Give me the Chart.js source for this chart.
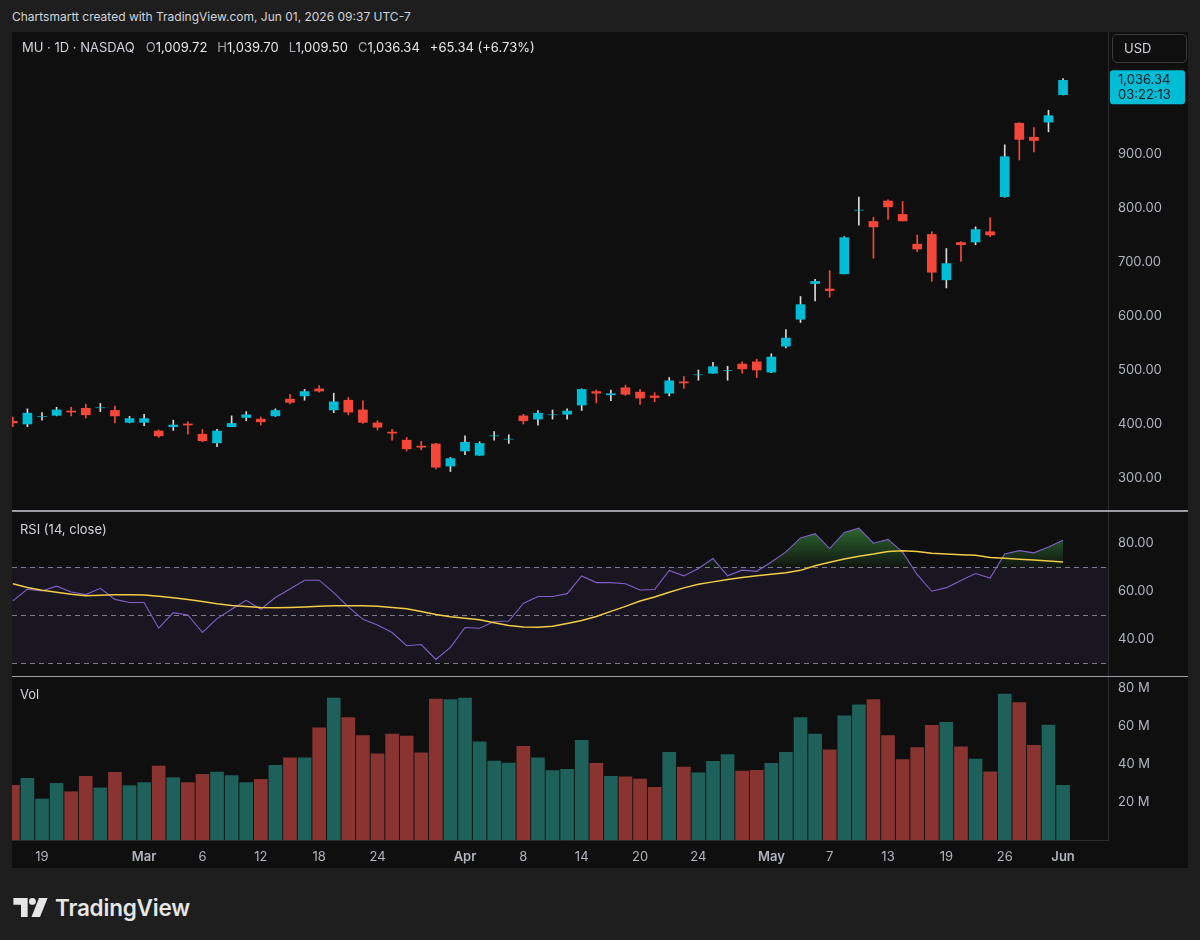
<!DOCTYPE html>
<html><head><meta charset="utf-8">
<script src="https://cdn.jsdelivr.net/npm/chart.js@4.4.1/dist/chart.umd.min.js"></script>
<style>
html,body{margin:0;padding:0;background:#1e1e1e;width:1200px;height:940px;overflow:hidden;font-family:Inter,"Noto Sans",sans-serif;}
#hdr{position:absolute;left:12px;top:9px;font-size:12px;color:#d1d4dc;white-space:nowrap;}
#panel{position:absolute;left:12px;top:32px;width:1176px;height:836px;background:#0f0f0f;}
canvas{position:absolute;}
.sep{position:absolute;left:12px;width:1176px;background:#9a9ca2;}
#legend{position:absolute;left:22px;top:39px;font-size:13px;color:#d1d4dc;white-space:nowrap;}
#legend .k{color:#a3a6af;}
#legend .v{color:#e6e7ea;margin-right:10px;}
.pl{position:absolute;left:20px;font-size:13px;color:#d1d4dc;}
#usd{position:absolute;left:1112px;top:34px;width:62px;height:27px;padding-left:11px;border:1px solid #3a3b3e;border-radius:5px;color:#d1d4dc;font-size:13px;line-height:27px;text-align:left;box-sizing:content-box;}
#logo{position:absolute;left:13px;top:894px;display:flex;align-items:center;color:#e6e6e6;}
#logo span{font-size:22.5px;font-weight:600;margin-left:7px;letter-spacing:-0.2px;}
</style></head>
<body>
<div id="hdr">Chartsmartt created with TradingView.com, Jun 01, 2026 09:37 UTC-7</div>
<div id="panel"></div>
<canvas id="cPrice" width="1176" height="478" style="left:12px;top:32px"></canvas>
<div class="sep" style="top:510px;height:2px"></div>
<canvas id="cRsi" width="1176" height="164" style="left:12px;top:512px"></canvas>
<div class="sep" style="top:676px;height:1px"></div>
<canvas id="cVol" width="1176" height="191" style="left:12px;top:677px"></canvas>
<div id="legend"></div>
<div class="pl" style="top:521px">RSI (14, close)</div>
<div class="pl" style="top:686px">Vol</div>
<div id="usd">USD</div>
<div id="logo"><svg width="35" height="19" viewBox="0 0 36 20"><path d="M0 0H15V20H8V7H0Z" fill="#e6e6e6"/><circle cx="20" cy="3.6" r="3.6" fill="#e6e6e6"/><path d="M27 0H36L28 20H19Z" fill="#e6e6e6"/></svg><span>TradingView</span></div>
<script>
// ---------- data ----------
const dates = ["2026-02-17","2026-02-18","2026-02-19","2026-02-20","2026-02-23","2026-02-24","2026-02-25","2026-02-26","2026-02-27",
"2026-03-02","2026-03-03","2026-03-04","2026-03-05","2026-03-06","2026-03-09","2026-03-10","2026-03-11","2026-03-12","2026-03-13",
"2026-03-16","2026-03-17","2026-03-18","2026-03-19","2026-03-20","2026-03-23","2026-03-24","2026-03-25","2026-03-26","2026-03-27",
"2026-03-30","2026-03-31","2026-04-01","2026-04-02","2026-04-06","2026-04-07","2026-04-08","2026-04-09","2026-04-10","2026-04-13",
"2026-04-14","2026-04-15","2026-04-16","2026-04-17","2026-04-20","2026-04-21","2026-04-22","2026-04-23","2026-04-24","2026-04-27",
"2026-04-28","2026-04-29","2026-04-30","2026-05-01","2026-05-04","2026-05-05","2026-05-06","2026-05-07","2026-05-08","2026-05-11",
"2026-05-12","2026-05-13","2026-05-14","2026-05-15","2026-05-18","2026-05-19","2026-05-20","2026-05-21","2026-05-22","2026-05-26",
"2026-05-27","2026-05-28","2026-05-29","2026-06-01"];

const open  = [405,400,414,416,424,429,430,425,403,403,387,395,400,381,365,395,412,409,415,446,452,465,426,444,426,402,385,370,359,363,322,350,342,378,372,415,409,417,418,435,460,454,467,459,452,457,478,491,494,499,511,515,496,544,594,660,650,678,796,775,813,788,733,751,667,736,737,756,821,957,931,959,1009.72];
const high  = [413,428,421,431,431,437,438,433,414,418,389,407,404,390,390,415,423,413,428,455,464,471,457,449,443,406,390,375,368,364,338,378,367,386,380,418,425,426,428,465,463,463,472,464,458,486,488,500,514,507,515,520,530,575,636,668,684,747,820,783,815,812,750,756,725,738,765,782,917,958,949,981,1039.70];
const low   = [395,395,407,415,415,411,423,402,402,397,375,388,381,367,358,395,406,398,414,437,444,459,421,417,401,389,370,350,352,317,312,343,342,370,364,400,398,409,409,425,439,443,453,436,441,452,466,481,494,481,494,486,495,541,588,628,635,678,768,707,779,776,719,664,652,701,732,747,820,889,904,941,1009.50];
const close = [402,420,414,426,422,417,430,415,410,410,378,398,398,369,387,401,417,404,425,440,460,461,441,422,403,394,383,354,357,320,336,366,364,378,372,406,420,417,424,464,457,456,455,448,449,480,476,491,506,499,502,500,524,559,621,664,647,745,796,765,802,776,724,681,697,732,760,750,895,927,925,971,1036.34];

const volumeM = [28.8,32.5,21.6,29.8,25.4,33.5,27.4,35.6,28.6,30.2,38.9,32.8,30.2,34.6,35.8,33.9,30.2,31.9,39.3,43.2,43.2,59.1,74.7,64.4,54.9,45.3,55.7,54.7,45.9,74.2,73.9,74.7,51.7,41.6,40.5,49.3,43.2,36.5,37.2,52.5,40.4,33.5,33.3,32.1,27.7,46.1,38.4,35.4,41.4,44.9,36.3,36.7,40.4,46.1,64.4,55.8,47.5,65.3,71.2,73.9,54.9,42.3,48.6,60.4,61.9,49.0,42.6,35.9,76.8,72.3,49.8,60.5,28.8];

const rsi = [55.9,60.8,60.0,62.0,59.6,58.5,61.1,56.5,55.2,55.2,44.5,51.0,50.0,42.7,48.5,52.4,56.1,52.4,57.3,60.8,64.5,64.5,59.3,53.4,48.2,45.8,42.7,37.2,37.7,31.5,36.5,44.8,44.5,47.3,47.5,54.8,57.7,57.7,58.9,66.3,63.5,63.5,63.0,60.4,60.6,68.6,66.3,69.4,73.5,66.3,68.7,68.2,72.1,76.3,82.1,83.9,77.7,84.4,86.2,79.9,81.5,76.2,66.8,59.9,61.4,64.4,67.3,65.4,75.4,76.8,75.9,78.3,81.1];
const rsiMa = [63.0,61.5,60.3,59.5,58.6,58.0,58.2,58.4,58.4,58.3,57.8,57.2,56.5,55.6,54.7,54.0,53.5,53.1,53.0,53.1,53.3,53.6,53.9,53.9,53.9,53.6,53.1,52.6,51.5,50.2,49.3,48.6,48.0,46.8,45.6,45.0,44.9,45.3,46.5,47.7,49.4,51.5,53.6,55.8,57.5,59.5,61.3,62.8,63.8,64.8,65.6,66.4,67.0,67.6,68.6,70.5,72.0,73.3,74.5,75.4,76.5,76.8,76.5,75.7,75.4,75.1,74.9,74.0,73.6,73.2,72.9,72.5,72.1];
const rsiLevels = [70, 50, 30];

const tickDates  = ["2026-02-19","2026-03-02","2026-03-06","2026-03-12","2026-03-18","2026-03-24","2026-04-01","2026-04-08","2026-04-14","2026-04-20","2026-04-24","2026-05-01","2026-05-07","2026-05-13","2026-05-19","2026-05-26","2026-06-01"];
const tickLabels = ["19","Mar","6","12","18","24","Apr","8","14","20","24","May","7","13","19","26","Jun"];
const monthLabels = ["Mar","Apr","May","Jun"];
const priceTicks = [300,400,500,600,700,800,900];
const rsiTicks = [40,60,80];
const volTicks = [20,40,60,80];
const symbolInfo = ["MU","1D","NASDAQ"];
const countdown = "03:22:13";

// ---------- styling ----------
const UP = '#00bcd4', DOWN = '#f4473a', UPWICK = '#d9d9d9';
const VUP = '#1e605a', VDOWN = '#8a3432';
const AXIS_TXT = '#b2b5be';
const FONT = 'Inter';
Chart.defaults.font.family = FONT;
Chart.defaults.font.size = 13;
Chart.defaults.animation = false;

const X_MIN = -0.057, X_MAX = 75.08;
const n = dates.length;
const isUp = close.map((c,i)=> c >= open[i]);
const fmt = v => v.toLocaleString('en-US',{minimumFractionDigits:2,maximumFractionDigits:2});

// legend
(function(){
  const L = n-1;
  const chg = close[L]-close[L-1];
  const pct = chg/close[L-1]*100;
  document.getElementById('legend').innerHTML =
    `<span style="margin-right:11px">${symbolInfo.join(' · ')}</span>`+
    `<span class="k">O</span><span class="v">${fmt(open[L])}</span>`+
    `<span class="k">H</span><span class="v">${fmt(high[L])}</span>`+
    `<span class="k">L</span><span class="v">${fmt(low[L])}</span>`+
    `<span class="k">C</span><span class="v">${fmt(close[L])}</span>`+
    `<span class="v">${chg>=0?'+':''}${fmt(chg)} (${chg>=0?'+':''}${pct.toFixed(2)}%)</span>`;
})();

function noPad(s){ s.paddingTop = 0; s.paddingBottom = 0; s.paddingLeft = 0; s.paddingRight = 0; }
function yAxis(min, max, ticks, cb){
  return {
    type:'linear', position:'right', min, max,
    grid:{display:false, drawTicks:false},
    border:{display:true, color:'#2b2c30', width:1},
    afterBuildTicks: s => { s.ticks = ticks.map(v=>({value:v})); },
    afterFit: s => { s.width = 80; noPad(s); },
    ticks:{color:AXIS_TXT, padding:10, callback:cb, font:{family:FONT,size:13}}
  };
}
const xHidden = {type:'linear', min:X_MIN, max:X_MAX, offset:false, display:false};
const baseOpts = {
  responsive:false, maintainAspectRatio:false, animation:false,
  layout:{padding:0, autoPadding:false},
  plugins:{legend:{display:false}, tooltip:{enabled:false}}
};

// ---------- price pane ----------
const priceLabelPlugin = {
  id:'priceLabel',
  afterDraw(chart){
    const {ctx, chartArea, scales:{y}} = chart;
    const last = close[n-1];
    const py = y.getPixelForValue(last);
    const x0 = chartArea.right + 2;
    ctx.save();
    ctx.fillStyle = UP;
    ctx.beginPath();
    ctx.roundRect(x0, py-10, 75, 34, 3);
    ctx.fill();
    ctx.fillStyle = '#0d1b22';
    ctx.font = '13px '+FONT;
    ctx.textBaseline = 'middle';
    ctx.textAlign = 'left';
    ctx.fillText(fmt(last), x0+8, py);
    ctx.fillText(countdown, x0+8, py+15);
    ctx.restore();
  }
};
new Chart(document.getElementById('cPrice'), {
  type:'bar',
  data:{datasets:[
    {data: dates.map((d,i)=>({x:i, y:[low[i], high[i]]})), backgroundColor: isUp.map(u=>u?UPWICK:DOWN),
     barThickness:1, maxBarThickness:1, grouped:false, borderWidth:0, order:2},
    {data: dates.map((d,i)=>({x:i, y:[open[i], close[i]]})), backgroundColor: isUp.map(u=>u?UP:DOWN),
     barThickness:9, maxBarThickness:9, grouped:false, borderWidth:0, order:1}
  ]},
  options:{...baseOpts, scales:{x:xHidden, y:yAxis(240.7, 1125.9, priceTicks, v=>fmt(v))}},
  plugins:[priceLabelPlugin]
});

// ---------- RSI pane ----------
const rsiBandPlugin = {
  id:'rsiBand',
  beforeDatasetsDraw(chart){
    const {ctx, chartArea:a, scales:{y}} = chart;
    const yTop = y.getPixelForValue(rsiLevels[0]), yBot = y.getPixelForValue(rsiLevels[2]);
    ctx.save();
    ctx.fillStyle = 'rgba(126,87,194,0.10)';
    ctx.fillRect(a.left, yTop, a.right-a.left, yBot-yTop);
    ctx.strokeStyle = 'rgba(140,143,152,0.85)';
    ctx.lineWidth = 1;
    ctx.setLineDash([5,4]);
    rsiLevels.forEach(l=>{
      const py = Math.round(y.getPixelForValue(l))+0.5;
      ctx.beginPath(); ctx.moveTo(a.left, py); ctx.lineTo(a.right, py); ctx.stroke();
    });
    ctx.restore();
  }
};
new Chart(document.getElementById('cRsi'), {
  type:'line',
  data:{datasets:[
    {data: dates.map((d,i)=>({x:i, y:rsi[i]})), borderColor:'#8060c8', borderWidth:1.1, pointRadius:0, tension:0,
     fill:{target:{value:rsiLevels[0]}, below:'rgba(0,0,0,0)'},
     backgroundColor: c => {
       const ch = c.chart; if (!ch.chartArea) return 'rgba(0,0,0,0)';
       const y = ch.scales.y;
       const g = ch.ctx.createLinearGradient(0, y.getPixelForValue(88), 0, y.getPixelForValue(rsiLevels[0]));
       g.addColorStop(0, 'rgba(60,155,65,0.7)');
       g.addColorStop(1, 'rgba(60,155,65,0.06)');
       return g;
     }, order:2},
    {data: dates.map((d,i)=>({x:i, y:rsiMa[i]})), borderColor:'#f2cc45', borderWidth:1.5, pointRadius:0, tension:0, fill:false, order:1}
  ]},
  options:{...baseOpts, scales:{x:xHidden, y:yAxis(24.58, 92.92, rsiTicks, v=>v.toFixed(2))}},
  plugins:[rsiBandPlugin]
});

// ---------- volume pane ----------
const tickIdx = tickDates.map(d=>dates.indexOf(d));
new Chart(document.getElementById('cVol'), {
  type:'bar',
  data:{datasets:[
    {data: dates.map((d,i)=>({x:i, y:volumeM[i]})), backgroundColor: isUp.map(u=>u?VUP:VDOWN),
     barThickness:13, maxBarThickness:13, grouped:false, borderWidth:0}
  ]},
  options:{...baseOpts, scales:{
    x:{type:'linear', min:X_MIN, max:X_MAX, offset:false, position:'bottom',
       grid:{display:false, drawTicks:false},
       border:{display:true, color:'#2b2c30'},
       afterBuildTicks: s => { s.ticks = tickIdx.map(v=>({value:v})); },
       afterFit: s => { s.height = 28; noPad(s); },
       ticks:{color:AXIS_TXT, padding:9, autoSkip:false, maxRotation:0, minRotation:0,
         callback:(v,i)=>tickLabels[i],
         font: c => ({family:FONT, size:13, weight: monthLabels.includes(tickLabels[c.index]) ? '600' : '400'})}},
    y: yAxis(0, 85.79, volTicks, v=>v+' M')
  }}
});
</script>
</body></html>
